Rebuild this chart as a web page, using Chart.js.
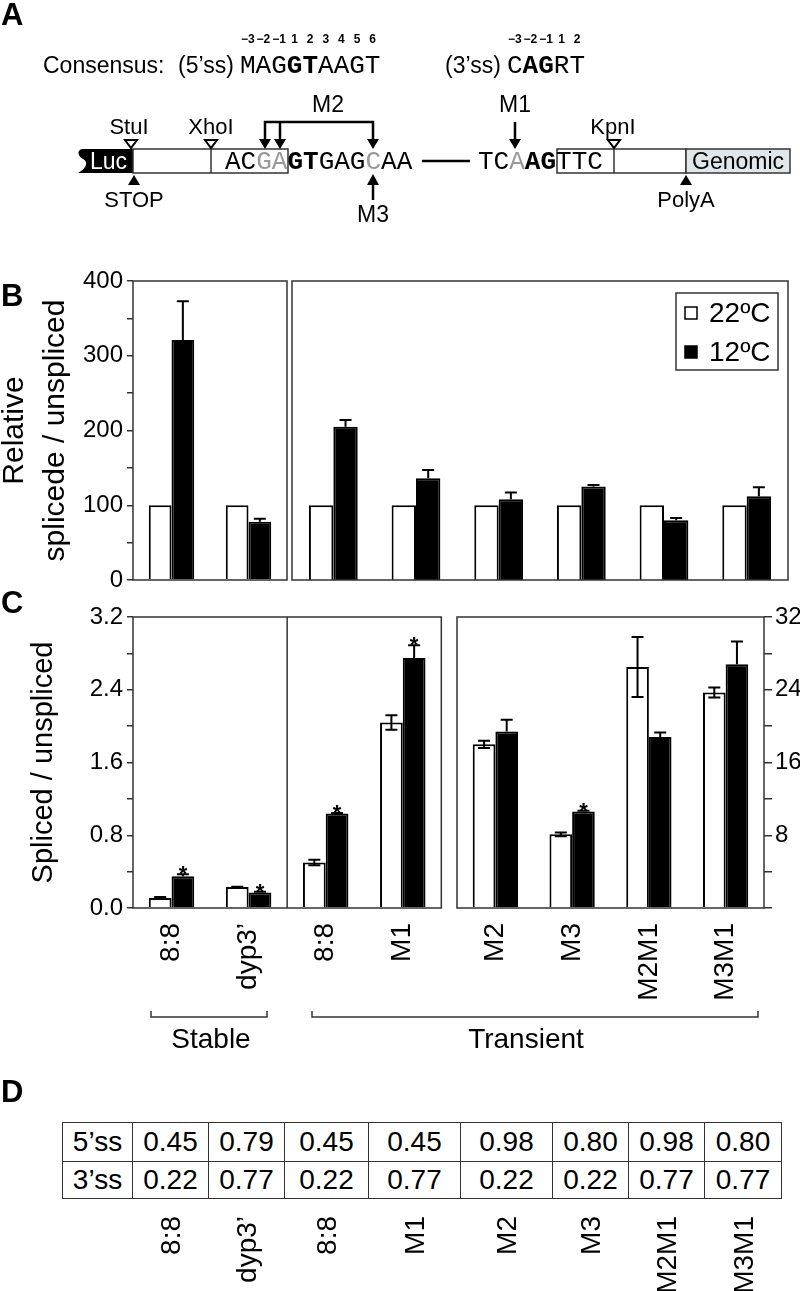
<!DOCTYPE html>
<html>
<head>
<meta charset="utf-8">
<script src="https://cdn.jsdelivr.net/npm/chart.js@4.4.0/dist/chart.umd.min.js"></script>
<style>
    body { margin: 0; background: #fff; width: 800px; height: 1291px; position: relative; overflow: hidden;
           font-family: 'Liberation Sans', Arial, sans-serif; }
    .abs { position: absolute; }
    #scoreTable { position: absolute; left: 62px; top: 1122px; border-collapse: collapse; table-layout: fixed;
                  width: 719px; font-size: 28px; }
    #scoreTable td { border: 1.5px solid #333; text-align: center; padding: 0; line-height: 1; }
</style>
</head>
<body>

<canvas id="b1" class="abs" style="left:0;top:270px" width="292" height="320"></canvas>
<canvas id="b2" class="abs" style="left:290px;top:270px" width="510" height="320"></canvas>
<canvas id="c1" class="abs" style="left:0;top:590px" width="452" height="420"></canvas>
<canvas id="c2" class="abs" style="left:450px;top:590px" width="350" height="420"></canvas>

<table id="scoreTable">
    <colgroup>
        <col style="width:70px"><col style="width:76px"><col style="width:76px"><col style="width:84px">
        <col style="width:92px"><col style="width:92px"><col style="width:76px"><col style="width:76px"><col style="width:77px">
    </colgroup>
    <tbody></tbody>
</table>

<svg id="overlay" class="abs" style="left:0;top:0" width="800" height="1291" font-family="'Liberation Sans', Arial, sans-serif">
    <!-- panel letters -->
    <g font-size="31" font-weight="bold">
        <text x="1" y="25">A</text>
        <text x="1" y="306">B</text>
        <text x="1" y="613">C</text>
        <text x="1" y="1102">D</text>
    </g>

    <!-- panel A: consensus -->
    <g id="posNums" font-size="12" font-weight="bold" text-anchor="middle"></g>
    <text x="43" y="73" font-size="23">Consensus:</text>
    <text x="178" y="73" font-size="23">(5’ss)</text>
    <text x="240" y="73" font-size="26" font-family="'Liberation Mono', monospace">MAG<tspan font-weight="bold">GT</tspan>AAGT</text>
    <text x="445" y="73" font-size="23">(3’ss)</text>
    <text x="507" y="73" font-size="26" font-family="'Liberation Mono', monospace">C<tspan font-weight="bold">AG</tspan>RT</text>

    <!-- panel A: construct -->
    <path d="M133,149 H83 C77,149 77,156 83,159 C89,162 86,169 78,173 H133 Z" fill="#000"/>
    <text x="90" y="169" font-size="23" fill="#fff">Luc</text>
    <rect x="133" y="149" width="155" height="24" fill="#fff" stroke="#333" stroke-width="1.5"/>
    <line x1="211" y1="149" x2="211" y2="173" stroke="#333" stroke-width="1.5"/>
    <rect x="557" y="149" width="129" height="24" fill="#fff" stroke="#333" stroke-width="1.5"/>
    <line x1="614" y1="149" x2="614" y2="173" stroke="#333" stroke-width="1.5"/>
    <rect x="686" y="149" width="104" height="24" fill="#dfe7ea" stroke="#333" stroke-width="1.5"/>
    <text x="692" y="169" font-size="23">Genomic</text>

    <g font-size="26" font-family="'Liberation Mono', monospace">
        <text x="225" y="169">AC<tspan fill="#999">GA</tspan><tspan font-weight="bold">GT</tspan>GAG<tspan fill="#999">C</tspan>AA</text>
        <text x="478" y="169">TC<tspan fill="#999">A</tspan><tspan font-weight="bold">AG</tspan>TTC</text>
    </g>
    <line x1="422" y1="161" x2="470" y2="161" stroke="#000" stroke-width="2.5"/>

    <!-- sites -->
    <g fill="#fff" stroke="#000" stroke-width="2">
        <polygon points="125,140 137,140 131,148"/>
        <polygon points="205,140 217,140 211,148"/>
        <polygon points="608,140 620,140 614,148"/>
    </g>
    <g fill="#000">
        <polygon points="128,185 140,185 134,175"/>
        <polygon points="680,185 692,185 686,175"/>
    </g>
    <g font-size="22" text-anchor="middle">
        <text x="129" y="134">StuI</text>
        <text x="211" y="134">XhoI</text>
        <text x="613" y="134">KpnI</text>
        <text x="134" y="207">STOP</text>
        <text x="686" y="207">PolyA</text>
    </g>

    <!-- mutations -->
    <path d="M265,140 V122 H373 V140 M280,122 V140 M515,122 V140 M373,184 V200" fill="none" stroke="#000" stroke-width="2.5"/>
    <g fill="#000">
        <polygon points="259,139 271,139 265,149"/>
        <polygon points="274,139 286,139 280,149"/>
        <polygon points="367,139 379,139 373,149"/>
        <polygon points="509,139 521,139 515,149"/>
        <polygon points="367,185 379,185 373,174"/>
    </g>
    <g font-size="23" text-anchor="middle">
        <text x="328" y="112">M2</text>
        <text x="515" y="112">M1</text>
        <text x="373" y="222">M3</text>
    </g>

    <!-- panel C groups -->
    <path d="M151,1011 V1017 H267 V1011 M312,1011 V1017 H758 V1011" fill="none" stroke="#333" stroke-width="1.5"/>
    <g font-size="28" text-anchor="middle">
        <text x="211" y="1048">Stable</text>
        <text x="526" y="1048">Transient</text>
    </g>

    <g id="tableLabels" font-size="28"></g>
</svg>

<script>
// series
const seriesNames = ['22ºC', '12ºC'];

// B: relative spliced / unspliced (22ºC = 100)
const stableLabels = ['8:8', 'dyp3’'];
const stable22 = [100, 100];
const stable12 = [321, 78];
const stable12Err = [52, 4];

const transientLabels = ['8:8', 'M1', 'M2', 'M3', 'M2M1', 'M3M1'];
const transient22 = [100, 100, 100, 100, 100, 100];
const transient12 = [205, 136, 108, 125, 80, 112];
const transient12Err = [9, 11, 9, 2, 3, 12];

// C: spliced / unspliced
const cLeftLabels = ['8:8', 'dyp3’', '8:8', 'M1'];
const cLeft22 = [0.11, 0.23, 0.50, 2.04];
const cLeft22Err = [0.01, 0.005, 0.03, 0.08];
const cLeft12 = [0.35, 0.17, 1.04, 2.75];
const cLeft12Err = [0.02, 0.01, 0.005, 0.14];
const cLeftStars = [true, true, true, true];

const cRightLabels = ['M2', 'M3', 'M2M1', 'M3M1'];
const cRight22 = [18.0, 8.1, 26.5, 23.7];
const cRight22Err = [0.4, 0.2, 3.3, 0.55];
const cRight12 = [19.4, 10.6, 18.8, 26.8];
const cRight12Err = [1.3, 0.1, 0.5, 2.5];
const cRightStars = [false, true, false, false];

// D: splice site scores
const tableLabels = ['8:8', 'dyp3’', '8:8', 'M1', 'M2', 'M3', 'M2M1', 'M3M1'];
const score5ss = ['0.45', '0.79', '0.45', '0.45', '0.98', '0.80', '0.98', '0.80'];
const score3ss = ['0.22', '0.77', '0.22', '0.77', '0.22', '0.22', '0.77', '0.77'];

// tick steps
const bStep = 50, bLabelEvery = 100;
const cLeftStep = 0.4, cRightStep = 4;

Chart.defaults.font.family = "'Liberation Sans', Arial, sans-serif";
Chart.defaults.color = '#000';
Chart.defaults.animation = false;

const framePlugin = {
    id: 'frame',
    afterDatasetsDraw(chart, args, opts) {
        const ctx = chart.ctx;
        const a = chart.chartArea;
        ctx.save();
        ctx.strokeStyle = '#333';
        ctx.lineWidth = 1.5;
        ctx.strokeRect(a.left, a.top, a.right - a.left, a.bottom - a.top);
        if (opts.splitAfter !== undefined) {
            const xs = chart.scales.x;
            const sx = (xs.getPixelForValue(opts.splitAfter) + xs.getPixelForValue(opts.splitAfter + 1)) / 2;
            ctx.beginPath();
            ctx.moveTo(sx, a.top);
            ctx.lineTo(sx, a.bottom);
            ctx.stroke();
        }
        ctx.restore();
    }
};

const errorBarPlugin = {
    id: 'errorBars',
    afterDatasetsDraw(chart) {
        const ctx = chart.ctx;
        ctx.save();
        ctx.strokeStyle = '#000';
        ctx.lineWidth = 2;
        chart.data.datasets.forEach(function (ds, di) {
            const meta = chart.getDatasetMeta(di);
            const ys = meta.yScale;
            meta.data.forEach(function (bar, i) {
                const v = ds.data[i];
                const up = ds.errUp ? ds.errUp[i] : 0;
                const dn = ds.errDown ? ds.errDown[i] : 0;
                let top = ys.getPixelForValue(v);
                if (up) {
                    top = ys.getPixelForValue(v + up);
                    const bot = ys.getPixelForValue(v - dn);
                    ctx.beginPath();
                    ctx.moveTo(bar.x, bot);
                    ctx.lineTo(bar.x, top);
                    ctx.moveTo(bar.x - 6, top);
                    ctx.lineTo(bar.x + 6, top);
                    if (dn) {
                        ctx.moveTo(bar.x - 6, bot);
                        ctx.lineTo(bar.x + 6, bot);
                    }
                    ctx.stroke();
                }
                if (ds.stars && ds.stars[i]) {
                    ctx.font = "bold 22px 'Liberation Sans'";
                    ctx.textAlign = 'center';
                    ctx.textBaseline = 'alphabetic';
                    ctx.fillStyle = '#000';
                    ctx.fillText('*', bar.x, top + 7);
                }
            });
        });
        ctx.restore();
    }
};

// boxed legend in the top right corner
const boxLegendPlugin = {
    id: 'boxLegend',
    afterDraw(chart, args, opts) {
        if (!opts.show) return;
        const ctx = chart.ctx;
        const a = chart.chartArea;
        const w = 102, h = 77;
        const x = a.right - 10 - w, y = a.top + 12;
        ctx.save();
        ctx.fillStyle = '#fff';
        ctx.fillRect(x, y, w, h);
        ctx.strokeStyle = '#333';
        ctx.lineWidth = 1.5;
        ctx.strokeRect(x, y, w, h);
        chart.data.datasets.forEach(function (ds, i) {
            const cy = y + 20 + i * 39;
            ctx.fillStyle = ds.backgroundColor;
            ctx.fillRect(x + 9, cy - 6, 12, 12);
            ctx.strokeStyle = ds.borderColor;
            ctx.strokeRect(x + 9, cy - 6, 12, 12);
            ctx.fillStyle = '#000';
            ctx.font = "28px 'Liberation Sans'";
            ctx.textBaseline = 'middle';
            ctx.fillText(ds.label, x + 33, cy + 1);
        });
        ctx.restore();
    }
};

function barDatasets(white, black, whiteErr, blackErr, stars, axisId) {
    return [
        { label: seriesNames[0], data: white, errUp: whiteErr, errDown: whiteErr, yAxisID: axisId,
          backgroundColor: '#fff', borderColor: '#000', borderWidth: 2 },
        { label: seriesNames[1], data: black, errUp: blackErr, stars: stars, yAxisID: axisId,
          backgroundColor: '#000', borderColor: '#000', borderWidth: 2 }
    ];
}

function tickAxis(min, max, step, callback, tickLength, width, position) {
    return {
        position: position || 'left',
        min: min, max: max,
        ticks: { stepSize: step, callback: callback, font: { size: 24 }, padding: position === 'right' ? 3 : 4, color: '#000' },
        grid: { drawOnChartArea: false, drawTicks: true, tickLength: tickLength, color: '#333', lineWidth: 1.5 },
        border: { display: false },
        // fixed axis width; no extra room for the end labels
        afterFit: function (s) { s.width = width; s.paddingTop = 0; s.paddingBottom = 0; }
    };
}

function rotatedX() {
    return {
        ticks: { minRotation: 90, maxRotation: 90, autoSkip: false, font: { size: 28 }, padding: 15, color: '#000' },
        grid: { display: false, drawTicks: false },
        border: { display: false },
        afterFit: function (s) { s.height = 102; }
    };
}

function createChart(id, labels, datasets, scales, padding, pluginOpts) {
    const ctx = document.getElementById(id).getContext('2d');
    return new Chart(ctx, {
        type: 'bar',
        data: { labels: labels, datasets: datasets },
        options: {
            responsive: false,
            devicePixelRatio: 1,
            animation: false,
            layout: { padding: padding },
            datasets: { bar: { categoryPercentage: 0.59, barPercentage: 1.0 } },
            scales: scales,
            plugins: Object.assign({ legend: { display: false }, tooltip: { enabled: false } }, pluginOpts || {})
        },
        plugins: [framePlugin, errorBarPlugin, boxLegendPlugin]
    });
}

// ---- B ----
const bLabel = function (v) { return v % bLabelEvery === 0 ? v : ''; };

const b1y = tickAxis(0, 400, bStep, bLabel, 6, 133);
b1y.title = { display: true, text: ['Relative', 'splicede / unspliced'], font: { size: 30, lineHeight: 1.37 }, padding: { top: -6, bottom: 0 } };
createChart('b1', stableLabels,
    barDatasets(stable22, stable12, null, stable12Err, null, 'y'),
    { x: { display: false }, y: b1y },
    { top: 11, bottom: 10, right: 5, left: 0 });

createChart('b2', transientLabels,
    barDatasets(transient22, transient12, null, transient12Err, null, 'y'),
    { x: { display: false }, y: { display: false, min: 0, max: 400 } },
    { top: 11, bottom: 10, right: 12, left: 2 },
    { boxLegend: { show: true } });

// ---- C ----
const c1y = tickAxis(0, 3.2, cLeftStep, function (v) {
    return Math.round(v * 10) % 8 === 0 ? v.toFixed(1) : '';
}, 6, 133);
c1y.title = { display: true, text: 'Spliced / unspliced', font: { size: 29, lineHeight: 1.2 }, padding: { top: 27, bottom: 0 } };
createChart('c1', cLeftLabels,
    barDatasets(cLeft22, cLeft12, cLeft22Err, cLeft12Err, cLeftStars, 'y'),
    { x: rotatedX(), y: c1y },
    { top: 27, bottom: 0, right: 5, left: 0 },
    { frame: { splitAfter: 1 } });

const c2y = tickAxis(0, 32, cRightStep, function (v) {
    return (v % 8 === 0 && v > 0) ? v : '';
}, 8, 36, 'right');
createChart('c2', cRightLabels,
    barDatasets(cRight22, cRight12, cRight22Err, cRight12Err, cRightStars, 'y'),
    { x: rotatedX(), y: c2y },
    { top: 27, bottom: 0, right: 0, left: 7 });

// ---- A: position numbers over consensus ----
function addPosNums(startX, nums) {
    const g = document.getElementById('posNums');
    nums.forEach(function (n, i) {
        const t = document.createElementNS('http://www.w3.org/2000/svg', 'text');
        t.setAttribute('x', startX + 7.8 + 15.6 * i);
        t.setAttribute('y', 43);
        t.textContent = n;
        g.appendChild(t);
    });
}
addPosNums(240, ['−3', '−2', '−1', '1', '2', '3', '4', '5', '6']);
addPosNums(507, ['−3', '−2', '−1', '1', '2']);

// ---- D ----
function buildTable() {
    const body = document.querySelector('#scoreTable tbody');
    [['5’ss', score5ss, 39], ['3’ss', score3ss, 37]].forEach(function (row) {
        const tr = document.createElement('tr');
        tr.style.height = row[2] + 'px';
        [row[0]].concat(row[1]).forEach(function (txt) {
            const td = document.createElement('td');
            td.textContent = txt;
            tr.appendChild(td);
        });
        body.appendChild(tr);
    });

    // rotated labels centred under each value column
    const g = document.getElementById('tableLabels');
    const cells = body.rows[0].cells;
    const tableBottom = document.getElementById('scoreTable').getBoundingClientRect().bottom;
    tableLabels.forEach(function (lab, i) {
        const r = cells[i + 1].getBoundingClientRect();
        const cx = (r.left + r.right) / 2;
        const ty = tableBottom + 17;
        const t = document.createElementNS('http://www.w3.org/2000/svg', 'text');
        t.setAttribute('x', cx);
        t.setAttribute('y', ty);
        t.setAttribute('text-anchor', 'end');
        t.setAttribute('dominant-baseline', 'central');
        t.setAttribute('transform', 'rotate(-90 ' + cx + ' ' + ty + ')');
        t.textContent = lab;
        g.appendChild(t);
    });
}
buildTable();
</script>
</body>
</html>
